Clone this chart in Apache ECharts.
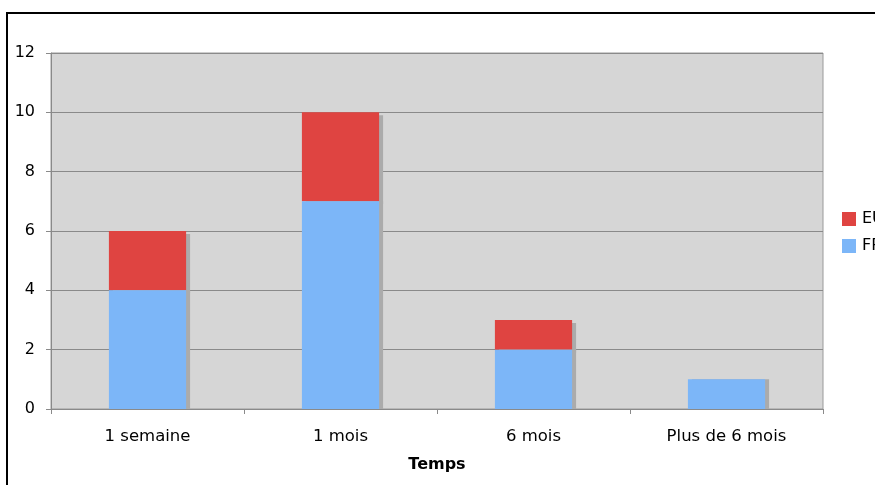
<!DOCTYPE html>
<html>
<head>
<meta charset="utf-8">
<script src="https://cdn.jsdelivr.net/npm/echarts@6/dist/echarts.min.js"></script>
<style>
  html, body { margin: 0; padding: 0; background: #fff; overflow: hidden; }
  #frame { position: absolute; left: 6px; top: 12px; width: 900px; height: 500px;
           border: 2px solid #000; box-sizing: border-box; }
  #chart { position: absolute; left: 0; top: 0; width: 875px; height: 485px; }
</style>
</head>
<body>
<div id="frame"></div>
<div id="chart"></div>
<script>
// Delay categories and counts per group
const categories = ['1 semaine', '1 mois', '6 mois', 'Plus de 6 mois'];
const frValues = [4, 7, 2, 1];
const euValues = [2, 3, 1, 0];
const yTicks = [0, 2, 4, 6, 8, 10, 12];

const FONT = '"DejaVu Sans", Verdana, sans-serif';

const chart = echarts.init(document.getElementById('chart'), null, { renderer: 'canvas' });

chart.setOption({
  animation: false,
  grid: {
    left: 51, top: 53, width: 772, height: 356,
    show: true, backgroundColor: '#d6d6d6', borderColor: '#9a9a9a', borderWidth: 1
  },
  legend: {
    orient: 'vertical', left: 842, top: 211, padding: 0,
    itemWidth: 14, itemHeight: 14, itemGap: 11,
    icon: 'rect',
    textStyle: { fontFamily: FONT, fontSize: 16, color: '#000', padding: [0, 0, 0, 1] },
    data: ['EU', 'FR']
  },
  xAxis: {
    type: 'category', data: categories,
    name: 'Temps', nameLocation: 'middle', nameGap: 48,
    nameTextStyle: { fontFamily: FONT, fontSize: 16, fontWeight: 'bold', color: '#000' },
    axisLine: { lineStyle: { color: '#8a8a8a', width: 1 } },
    axisTick: { show: true, length: 5, lineStyle: { color: '#8a8a8a' } },
    axisLabel: { fontFamily: FONT, fontSize: 16.5, color: '#000', margin: 19 }
  },
  yAxis: {
    type: 'value', min: yTicks[0], max: yTicks[yTicks.length - 1], interval: 2,
    axisLine: { show: true, lineStyle: { color: '#8a8a8a' } },
    axisTick: { show: true, length: 5, lineStyle: { color: '#8a8a8a' } },
    axisLabel: { fontFamily: FONT, fontSize: 16, color: '#000', margin: 16 },
    splitLine: { lineStyle: { color: '#8a8a8a', width: 1 } }
  },
  series: [
    {
      name: 'FR', type: 'bar', stack: 'total', data: frValues, barWidth: '40%', z: 3,
      itemStyle: { color: '#7cb6f8', shadowColor: '#ababab', shadowOffsetX: 4, shadowOffsetY: 0, shadowBlur: 0 }
    },
    {
      name: 'EU', type: 'bar', stack: 'total', data: euValues, barWidth: '40%', z: 2,
      itemStyle: { color: '#df4441', shadowColor: '#ababab', shadowOffsetX: 4, shadowOffsetY: 3, shadowBlur: 0 }
    }
  ]
});
</script>
</body>
</html>
